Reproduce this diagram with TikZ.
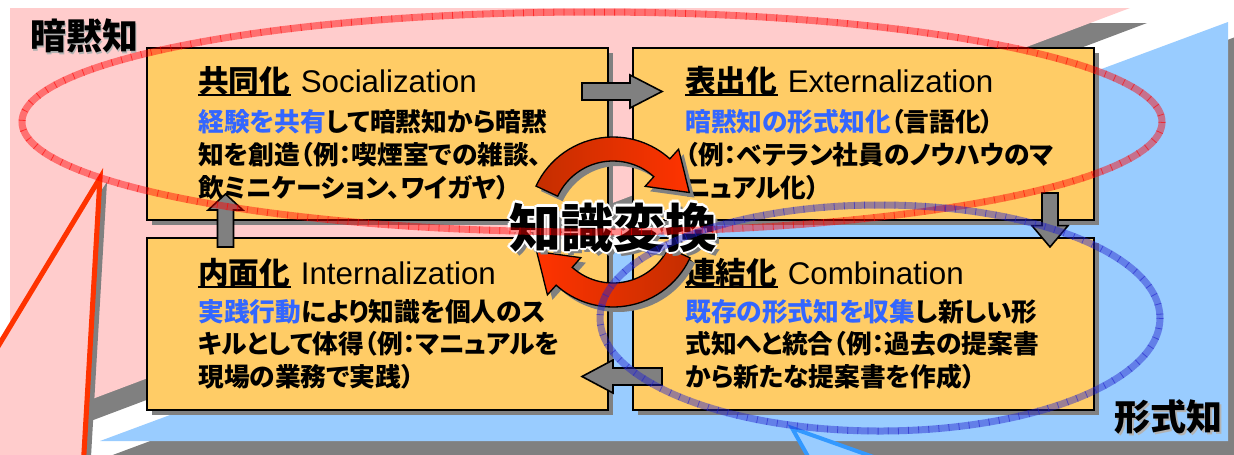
\documentclass[tikz,border=0pt]{standalone}
\usepackage{fontspec}
\newfontfamily\jp{Noto Sans CJK JP}[RawFeature=+palt]
\newfontfamily\en{Liberation Sans}
\usetikzlibrary{calc,shadows}
\definecolor{pinkbg}{HTML}{FFCCCC}
\definecolor{bluebg}{HTML}{99CCFF}
\definecolor{shgray}{HTML}{808080}
\definecolor{boxfill}{HTML}{FFCC66}
\definecolor{hlblue}{HTML}{3366FF}
\definecolor{calred}{HTML}{FF3300}
\definecolor{calblue}{HTML}{3399FF}
\definecolor{ellred}{HTML}{FF0000}
\definecolor{ellblue}{HTML}{2222CC}
\definecolor{arrdark}{HTML}{C42E00}
\definecolor{arrlite}{HTML}{FF3300}
\newcommand\hl[1]{\textcolor{hlblue}{#1}}
\newcommand\olay[3]{\makebox[0pt][l]{\kern#1\raisebox{#2}{#3}}}
\newcommand\halotext[1]{%
\olay{3pt}{-3pt}{\color{shgray}#1}%
\olay{2pt}{0pt}{\color{white}#1}\olay{-2pt}{0pt}{\color{white}#1}%
\olay{0pt}{2pt}{\color{white}#1}\olay{0pt}{-2pt}{\color{white}#1}%
\olay{1.4pt}{1.4pt}{\color{white}#1}\olay{-1.4pt}{1.4pt}{\color{white}#1}%
\olay{1.4pt}{-1.4pt}{\color{white}#1}\olay{-1.4pt}{-1.4pt}{\color{white}#1}%
#1}
\newcommand\blockarrow[5]{%
  \coordinate (bah) at ($(#2)!#5!(#1)$);
  \filldraw[barrow] ($(#1)!#3!90:(#2)$) -- ($(bah)!#3!90:(#2)$) -- ($(bah)!#4!90:(#2)$) -- (#2)
    -- ($(bah)!#4!-90:(#2)$) -- ($(bah)!#3!-90:(#2)$) -- ($(#1)!#3!-90:(#2)$) -- cycle;}
\newcommand\carrow[3]{%
  \path[#3] (#1:85) arc[start angle=#1,end angle=#2,radius=85] -- (#2:98)
    -- ([shift={(#2:73)}]#2+90:37) -- (#2:48) -- (#2:61)
    arc[start angle=#2,end angle=#1,radius=61] -- cycle;}
\tikzset{
  kbox/.style={draw=black, line width=1.5pt, fill=boxfill, minimum width=345.75pt,
    minimum height=129pt, inner sep=0pt,
    general shadow={fill=shgray, shadow xshift=3.75pt, shadow yshift=-3.75pt}},
  jt/.style={anchor=base west, inner sep=0pt, font=\jp\bfseries\fontsize{19.3}{19.3}\selectfont},
  tj/.style={anchor=base west, inner sep=0pt, font=\jp\bfseries\fontsize{23}{23}\selectfont},
  te/.style={anchor=base west, inner sep=0pt, font=\en\fontsize{23.5}{23.5}\selectfont},
  ul/.style={line width=1.4pt, black},
  barrow/.style={fill=shgray, draw=black, line width=1.2pt, line join=miter},
  lbl/.style={inner sep=0pt, font=\jp\bfseries\fontsize{27}{27}\selectfont},
  ellr/.style={ellred, line width=5.25pt},
  ellb/.style={ellblue, line width=5.25pt},
}
\begin{document}
\begin{tikzpicture}[x=0.75pt,y=-0.75pt]
\useasboundingbox (0,0) rectangle (1234,454);
\clip (0,0) rectangle (1234,454);
% background planes
\fill[shgray] (27,23) -- (1147,23) -- (27,445) -- cycle;
\fill[pinkbg] (10,8) -- (1130,8) -- (10,430) -- cycle;
\fill[shgray] (1238,36) -- (1238,456) -- (110,456) -- cycle;
\fill[bluebg] (1228,22) -- (1228,441) -- (100,441) -- cycle;
% red callout
\coordinate (rtip) at (100,178);
\coordinate (rc1) at (-12,363);
\coordinate (rc2) at (83,470);
\fill[shgray] ([shift={(7,4)}]rtip) -- ([shift={(7,4)}]rc2) -- (-40,480) -- (-40,400) -- cycle;
\fill[pinkbg] (rtip) -- (rc2) -- (-40,470) -- (-40,410) -- (rc1) -- cycle;
\draw[calred, line width=3.8pt, line join=miter, miter limit=20] (rc1) -- (rtip) -- (rc2);
% blue callout
\coordinate (btip) at (792,428);
\coordinate (bc1) at (810,460);
\coordinate (bc2) at (882,460);
\fill[bluebg] (btip) -- (bc1) -- (bc2) -- cycle;
\draw[calblue, line width=3pt, line join=miter, miter limit=20] (bc1) -- (btip) -- (bc2);
% labels
\node[lbl] (tacit) at (84,37) {\olay{1.5pt}{-1.5pt}{\color{gray!60}暗黙知}暗黙知};
\node[lbl] (expl) at (1168,418) {\olay{1.5pt}{-1.5pt}{\color{gray!60}形式知}形式知};
% boxes
\node[kbox] (b1) at (377.5,134) {};
\node[kbox] (b2) at (863.5,134) {};
\node[kbox] (b3) at (377.5,324) {};
\node[kbox] (b4) at (863.5,324) {};
% box 1
\node[tj] (t1) at (198,92) {共同化};
\node[te] (t1e) at ([xshift=7.5pt]t1.base east) {Socialization};
\draw[ul] ([yshift=-2.2pt]t1.base west) -- ([yshift=-2.2pt]t1.base east);
\node[jt] (l11) at (198,131) {\hl{経験を共有}して暗黙知から暗黙};
\node[jt] (l12) at (198,164) {知を創造（例：喫煙室での雑談、};
\node[jt] (l13) at (198,197) {飲ミニケーション、ワイガヤ）};
% box 2
\node[tj] (t2) at (685,92) {表出化};
\node[te] (t2e) at ([xshift=7.5pt]t2.base east) {Externalization};
\draw[ul] ([yshift=-2.2pt]t2.base west) -- ([yshift=-2.2pt]t2.base east);
\node[jt] (l21) at (685,131) {\hl{暗黙知の形式知化}（言語化）};
\node[jt] (l22) at (685,164) {（例：ベテラン社員のノウハウのマ};
\node[jt] (l23) at (685,197) {ニュアル化）};
% box 3
\node[tj] (t3) at (198,284) {内面化};
\node[te] (t3e) at ([xshift=7.5pt]t3.base east) {Internalization};
\draw[ul] ([yshift=-2.2pt]t3.base west) -- ([yshift=-2.2pt]t3.base east);
\node[jt] (l31) at (198,321) {\hl{実践行動}により知識を個人のス};
\node[jt] (l32) at (198,353) {キルとして体得（例：マニュアルを};
\node[jt] (l33) at (198,386) {現場の業務で実践）};
% box 4
\node[tj] (t4) at (685,284) {連結化};
\node[te] (t4e) at ([xshift=7.5pt]t4.base east) {Combination};
\draw[ul] ([yshift=-2.2pt]t4.base west) -- ([yshift=-2.2pt]t4.base east);
\node[jt] (l41) at (685,321) {\hl{既存の形式知を収集}し新しい形};
\node[jt] (l42) at (685,353) {式知へと統合（例：過去の提案書};
\node[jt] (l43) at (685,386) {から新たな提案書を作成）};
% block arrows
\coordinate (a1s) at (582,91.5); \coordinate (a1e) at (662,91.5);
\coordinate (a2s) at (1050,193); \coordinate (a2e) at (1050,247);
\coordinate (a3s) at (662,376.5); \coordinate (a3e) at (582,376.5);
\coordinate (a4s) at (225.5,247); \coordinate (a4e) at (225.5,194);
\blockarrow{a1s}{a1e}{6.4pt}{12.4pt}{24pt}
\blockarrow{a2s}{a2e}{6pt}{13.5pt}{16pt}
\blockarrow{a3s}{a3e}{6.4pt}{12.4pt}{23.25pt}
\blockarrow{a4s}{a4e}{6pt}{13pt}{12pt}
% circular arrows
\begin{scope}[shift={(618,227)}]
  \carrow{205}{312}{fill=shgray}
  \carrow{25}{132}{fill=shgray}
\end{scope}
\begin{scope}[shift={(613,222)}]
  \carrow{205}{312}{draw=black, line width=1pt, left color=arrdark, right color=arrlite}
  \carrow{25}{132}{draw=black, line width=1pt, left color=arrlite, right color=arrdark}
\end{scope}
% central text
\node[inner sep=0pt, font=\jp\bfseries\fontsize{39}{39}\selectfont] (conv) at (613,228) {\halotext{知識変換}};
% ellipses
\draw[ellr, opacity=.45] (592,122) ellipse[x radius=570, y radius=110];
\draw[ellr, opacity=.6, dash pattern=on .6pt off 7pt] (592,122) ellipse[x radius=570, y radius=110];
\draw[ellb, opacity=.45] (880,318) ellipse[x radius=280, y radius=113];
\draw[ellb, opacity=.6, dash pattern=on .6pt off 7pt] (880,318) ellipse[x radius=280, y radius=113];
\end{tikzpicture}
\end{document}
